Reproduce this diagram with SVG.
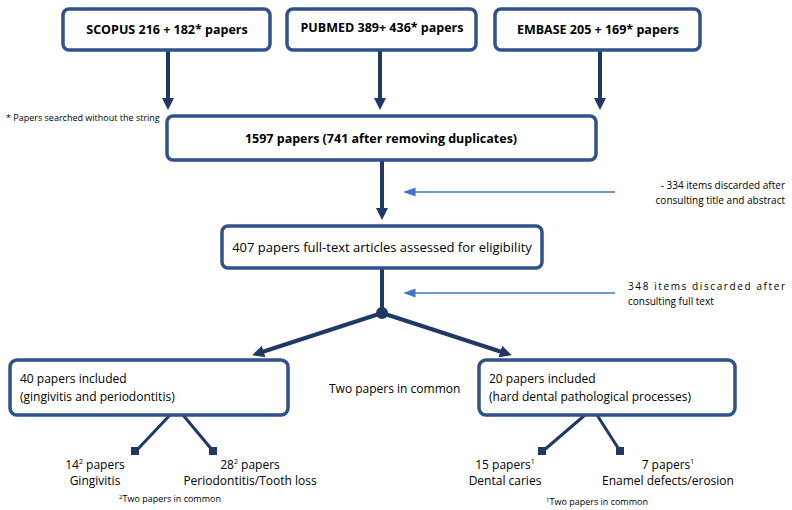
<svg xmlns="http://www.w3.org/2000/svg" width="792" height="510" viewBox="0 0 792 510">
<defs>
<style>
.b{fill:#fff;stroke:#2e5289;stroke-width:3.5}
.t{font-family:"Open Sans","Liberation Sans",sans-serif;font-size:13px;fill:#000}
.h{font-weight:bold;font-size:12.5px}
.s{font-size:9px}
.m{font-size:10px}
.n{font-size:12px}
.k{stroke:#1f3864;stroke-width:4;fill:none}
.c{stroke:#4472c4;stroke-width:1.5;fill:none}
</style>
<marker id="a" markerWidth="4" markerHeight="4" refX="2" refY="2" orient="auto" markerUnits="strokeWidth"><path d="M0,0.5L3,2L0,3.5z" fill="#1f3864"/></marker>
<marker id="a2" markerWidth="8" markerHeight="8" refX="7" refY="4" orient="auto" markerUnits="strokeWidth"><path d="M0,1L8,4L0,7" fill="#4472c4"/></marker>
</defs>
<g id="connectors">
<line class="k" x1="168" y1="51" x2="168" y2="106" marker-end="url(#a)"/>
<line class="k" x1="380" y1="51" x2="380" y2="106" marker-end="url(#a)"/>
<line class="k" x1="600" y1="51" x2="600" y2="106" marker-end="url(#a)"/>
<line class="k" x1="382" y1="161" x2="382" y2="216" marker-end="url(#a)"/>
<line class="k" x1="382" y1="269" x2="382" y2="313"/>
<circle cx="382" cy="313" r="6" fill="#1f3864"/>
<line class="k" x1="382" y1="313" x2="256" y2="354" marker-end="url(#a)"/>
<line class="k" x1="382" y1="313" x2="508" y2="354" marker-end="url(#a)"/>
<line class="c" x1="615" y1="192" x2="405" y2="192" marker-end="url(#a2)"/>
<line class="c" x1="615" y1="293" x2="405" y2="293" marker-end="url(#a2)"/>
<g stroke="#1f3864" stroke-width="3">
<line x1="170" y1="415" x2="136" y2="451"/><line x1="183" y1="415" x2="213" y2="451"/>
<line x1="585" y1="415" x2="543" y2="451"/><line x1="597" y1="415" x2="620" y2="451"/>
</g>
<g fill="#1f3864"><rect x="131" y="447" width="8" height="8"/><rect x="209" y="447" width="8" height="8"/><rect x="538" y="447" width="8" height="8"/><rect x="616" y="447" width="8" height="8"/></g>
</g>
<g id="scopus"><rect class="b" x="63" y="9" width="207" height="41" rx="6"/><text class="t h" x="167" y="34" text-anchor="middle">SCOPUS 216 + 182* papers</text></g>
<g id="pubmed"><rect class="b" x="287" y="9" width="189" height="41" rx="6"/><text class="t h" x="382" y="32" text-anchor="middle">PUBMED 389+ 436* papers</text></g>
<g id="embase"><rect class="b" x="495" y="9" width="205" height="41" rx="6"/><text class="t h" x="598" y="34" text-anchor="middle">EMBASE 205 + 169* papers</text></g>
<text class="t s" x="6" y="121">* Papers searched without the string</text>
<g id="n1597"><rect class="b" x="167" y="116" width="429" height="44" rx="6"/><text class="t h" x="381" y="143" text-anchor="middle">1597 papers (741 after removing duplicates)</text></g>
<g id="n407"><rect class="b" x="222" y="226" width="320" height="42" rx="6"/><text class="t" x="382" y="252" text-anchor="middle">407 papers full-text articles assessed for eligibility</text></g>
<text class="t m" x="785" y="189" text-anchor="end">- 334 items discarded after</text>
<text class="t m" x="785" y="204" text-anchor="end">consulting title and abstract</text>
<text class="t m" x="628" y="290" textLength="157" lengthAdjust="spacing">348 items discarded after</text>
<text class="t m" x="628" y="305">consulting full text</text>
<g id="left"><rect class="b" x="10" y="360" width="278" height="55" rx="7"/><text class="t n" x="20" y="383">40 papers included</text><text class="t n" x="20" y="401">(gingivitis and periodontitis)</text></g>
<text class="t n" x="329" y="393">Two papers in common</text>
<g id="right"><rect class="b" x="479" y="360" width="256" height="55" rx="7"/><text class="t n" x="489" y="383">20 papers included</text><text class="t n" x="489" y="401">(hard dental pathological processes)</text></g>
<text class="t n" x="95" y="469" text-anchor="middle">14<tspan font-size="7" dy="-5">2</tspan><tspan dy="5"> papers</tspan></text>
<text class="t n" x="95" y="485" text-anchor="middle">Gingivitis</text>
<text class="t n" x="250" y="469" text-anchor="middle">28<tspan font-size="7" dy="-5">2</tspan><tspan dy="5"> papers</tspan></text>
<text class="t n" x="250" y="485" text-anchor="middle">Periodontitis/Tooth loss</text>
<text class="t s" x="170" y="502" text-anchor="middle"><tspan font-size="6" dy="-3">2</tspan><tspan dy="3">Two papers in common</tspan></text>
<text class="t n" x="505" y="469" text-anchor="middle">15 papers<tspan font-size="7" dy="-5">1</tspan></text>
<text class="t n" x="505" y="485" text-anchor="middle">Dental caries</text>
<text class="t n" x="668" y="469" text-anchor="middle">7 papers<tspan font-size="7" dy="-5">1</tspan></text>
<text class="t n" x="668" y="485" text-anchor="middle">Enamel defects/erosion</text>
<text class="t s" x="597" y="505" text-anchor="middle"><tspan font-size="6" dy="-3">1</tspan><tspan dy="3">Two papers in common</tspan></text>
</svg>
